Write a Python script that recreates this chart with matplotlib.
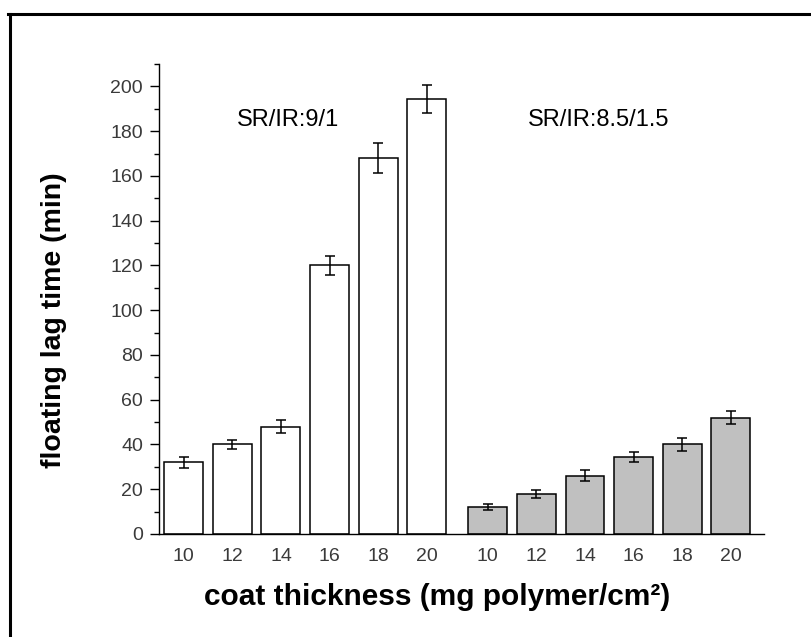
import numpy as np
import matplotlib
matplotlib.use("Agg")
import matplotlib.pyplot as plt
from matplotlib.lines import Line2D
from matplotlib.ticker import MultipleLocator

plt.rcParams['font.family'] = ['Liberation Sans', 'DejaVu Sans']

# coat thickness levels (mg polymer/cm2), same for both ratios
thickness = [10, 12, 14, 16, 18, 20]

# SR/IR 9/1
lag_91 = [32, 40, 48, 120, 168, 194.5]
err_91 = [2.5, 2, 3, 4.3, 6.7, 6.3]

# SR/IR 8.5/1.5
lag_8515 = [12, 18, 26, 34.5, 40, 52]
err_8515 = [1.3, 1.8, 2.5, 2.2, 2.8, 2.9]

group_labels = ['SR/IR:9/1', 'SR/IR:8.5/1.5']

fig = plt.figure(figsize=(8.11, 6.37), dpi=100)
ax = fig.add_axes([0.196, 0.1617, 0.746, 0.7378])

pos1 = np.arange(len(thickness))
pos2 = np.arange(len(thickness)) + 6.25
width = 0.8
ekw = dict(fmt='none', ecolor='black', elinewidth=1.1, capsize=3.8, capthick=1.1)

ax.bar(pos1, lag_91, width, color='white', edgecolor='black', linewidth=1.1, zorder=2)
ax.errorbar(pos1, lag_91, yerr=err_91, zorder=3, **ekw)
ax.bar(pos2, lag_8515, width, color='#c0c0c0', edgecolor='black', linewidth=1.1, zorder=2)
ax.errorbar(pos2, lag_8515, yerr=err_8515, zorder=3, **ekw)

ax.set_xlim(-0.508, 11.93)
ax.set_ylim(0, 210)
ax.set_xticks(np.concatenate([pos1, pos2]))
ax.set_xticklabels([str(t) for t in thickness] * 2)
ax.yaxis.set_major_locator(MultipleLocator(20))
ax.yaxis.set_minor_locator(MultipleLocator(10))
ax.tick_params(axis='x', length=0, pad=10, labelsize=14, labelcolor='#3a3a3a')
ax.tick_params(axis='y', which='major', direction='out', length=6.5, width=1,
               pad=5, labelsize=14, labelcolor='#3a3a3a')
ax.tick_params(axis='y', which='minor', direction='out', length=3.6, width=1)

for side in ['top', 'right']:
    ax.spines[side].set_visible(False)
for side in ['left', 'bottom']:
    ax.spines[side].set_linewidth(1)

ax.set_xlabel('coat thickness (mg polymer/cm²)', fontsize=21.5, fontweight='bold',
              va='top')
ax.xaxis.set_label_coords(0.46, -0.104)
ax.set_ylabel('floating lag time (min)', fontsize=20.5, fontweight='bold')
ax.yaxis.set_label_coords(-0.152, 0.455)

ax.text(2.14, 185, group_labels[0], fontsize=17, ha='center', va='center')
ax.text(8.54, 185, group_labels[1], fontsize=17, ha='center', va='center')

# border line along the left and top edges
fig.add_artist(Line2D([9.5 / 811, 9.5 / 811], [0, 1 - 13.5 / 637],
                      transform=fig.transFigure, color='black', lw=2.2))
fig.add_artist(Line2D([8 / 811, 1], [1 - 13.5 / 637, 1 - 13.5 / 637],
                      transform=fig.transFigure, color='black', lw=2.2))

fig.savefig('out.png', dpi=100)
